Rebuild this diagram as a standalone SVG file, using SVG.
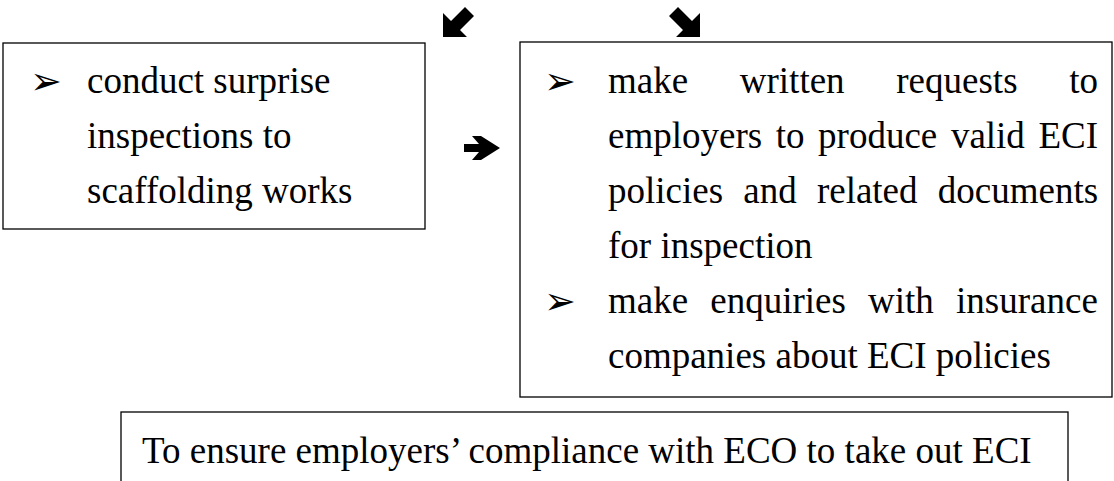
<svg xmlns="http://www.w3.org/2000/svg" width="1114" height="481" viewBox="0 0 1114 481">
<style>
.box{fill:#fff;stroke:#000;stroke-width:1.3}
.t{font-family:"Liberation Serif","Times New Roman",serif;font-size:37px;fill:#000}
.b{font-family:"DejaVu Sans",sans-serif;font-size:38px;fill:#000}
.arr{fill:#000;stroke:none}
</style>
<rect width="1114" height="481" fill="#fff"/>
<g id="connectors">
<polygon class="arr" points="443,37 443,13 451,21 465,7 474,16 460,30 467,37"/>
<polygon class="arr" points="700,37 700,13 692,21 678,7 669,16 683,30 676,37"/>
<polygon class="arr" points="464,144 479,144 472,136 481,136 500,148 481,160 472,160 479,152 464,152"/>
</g>
<g id="node-inspections">
<rect class="box" x="3" y="43" width="422" height="186"/>
<text class="b" x="30" y="94">➢</text>
<text class="t" x="87" y="93">conduct surprise</text>
<text class="t" x="87" y="148">inspections to</text>
<text class="t" x="87" y="203">scaffolding works</text>
</g>
<g id="node-requests">
<rect class="box" x="520" y="42" width="592" height="355"/>
<text class="b" x="544" y="94">➢</text>
<text class="t" y="93"><tspan x="608">make</tspan><tspan x="739.8">written</tspan><tspan x="896.3">requests</tspan><tspan x="1069.2">to</tspan></text>
<text class="t" y="148"><tspan x="608">employers</tspan><tspan x="775.7">to</tspan><tspan x="818.1">produce</tspan><tspan x="950.9">valid</tspan><tspan x="1038.5">ECI</tspan></text>
<text class="t" y="203"><tspan x="608">policies</tspan><tspan x="743.3">and</tspan><tspan x="816.9">related</tspan><tspan x="937.8">documents</tspan></text>
<text class="t" x="608" y="258">for inspection</text>
<text class="b" x="544" y="314">➢</text>
<text class="t" y="313"><tspan x="608">make</tspan><tspan x="710.3">enquiries</tspan><tspan x="868.1">with</tspan><tspan x="956.1">insurance</tspan></text>
<text class="t" x="608" y="368">companies about ECI policies</text>
</g>
<g id="node-objective">
<rect class="box" x="121" y="412" width="947" height="90"/>
<text class="t" x="142" y="463">To ensure employers’ compliance with ECO to take out ECI</text>
</g>
</svg>
